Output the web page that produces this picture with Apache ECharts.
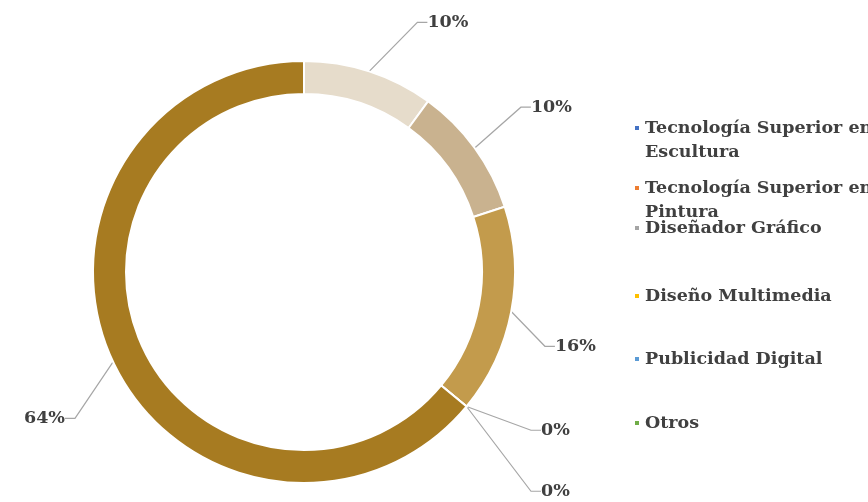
<!DOCTYPE html>
<html><head><meta charset="utf-8">
<script src="https://cdn.jsdelivr.net/npm/echarts@6/dist/echarts.min.js"></script>
<style>html,body{margin:0;padding:0;background:#fff}#c{width:868px;height:502px}</style>
</head><body><div id="c"></div>
<script>
const categories = ['Tecnología Superior en Escultura','Tecnología Superior en Pintura','Diseñador Gráfico','Diseño Multimedia','Publicidad Digital','Otros'];
const percentages = [10, 10, 16, 0, 0, 64];
const legendLabels = ['Tecnología Superior en\nEscultura','Tecnología Superior en\nPintura','Diseñador Gráfico','Diseño Multimedia','Publicidad Digital','Otros'];

// styles / layout (not data)
const sliceColors = ['#e6dccb','#c9b28f','#c39b4c','#b8892f','#b38427','#a77b21'];
const legendMarkerColors = ['#4472c4','#ed7d31','#a5a5a5','#ffc000','#5b9bd5','#70ad47'];
const legendCenters = [128, 188, 228, 296, 359, 423];
const labelShift = [[37,-30],[25,-29],[9,31],[44,11],[44,72],[-15,48]];
const FONT = 'DejaVu Serif';
const LH = 24;

const chart = echarts.init(document.getElementById('c'), null, {renderer:'canvas'});

const legends = categories.map((name, i) => {
  const twoLine = legendLabels[i].indexOf('\n') >= 0;
  const shown = twoLine ? '\n' + legendLabels[i] : legendLabels[i];
  const h = twoLine ? LH * 3 : LH;
  return {
    orient: 'vertical', left: 633, top: legendCenters[i] - h / 2, padding: 0,
    icon: 'rect', itemWidth: 6, itemHeight: 6, selectedMode: false,
    data: [{ name: name, itemStyle: { color: legendMarkerColors[i] } }],
    formatter: () => shown,
    textStyle: { fontFamily: FONT, fontWeight: 'bold', fontSize: 17.5, color: '#404040', lineHeight: LH }
  };
});

chart.setOption({
  animation: false,
  backgroundColor: '#ffffff',
  legend: legends,
  series: [{
    type: 'pie',
    center: [304, 272],
    radius: [178, 211],
    startAngle: 90,
    clockwise: true,
    avoidLabelOverlap: false,
    data: categories.map((n, i) => ({ name: n, value: percentages[i], itemStyle: { color: sliceColors[i] } })),
    itemStyle: { borderColor: '#ffffff', borderWidth: 2 },
    label: { show: true, position: 'outside', formatter: '{c}%', fontFamily: FONT, fontWeight: 'bold', fontSize: 17.5, color: '#404040' },
    labelLine: { show: true, length: 20, length2: 10, lineStyle: { color: '#a6a6a6', width: 1.2 } },
    labelLayout: function (p) {
      const o = labelShift[p.dataIndex];
      const r = p.labelRect;
      const right = p.align === 'right';
      return { x: (right ? r.x + r.width : r.x) + o[0], y: r.y + r.height / 2 + o[1] };
    },
    emphasis: { disabled: true }
  }]
});
</script></body></html>
